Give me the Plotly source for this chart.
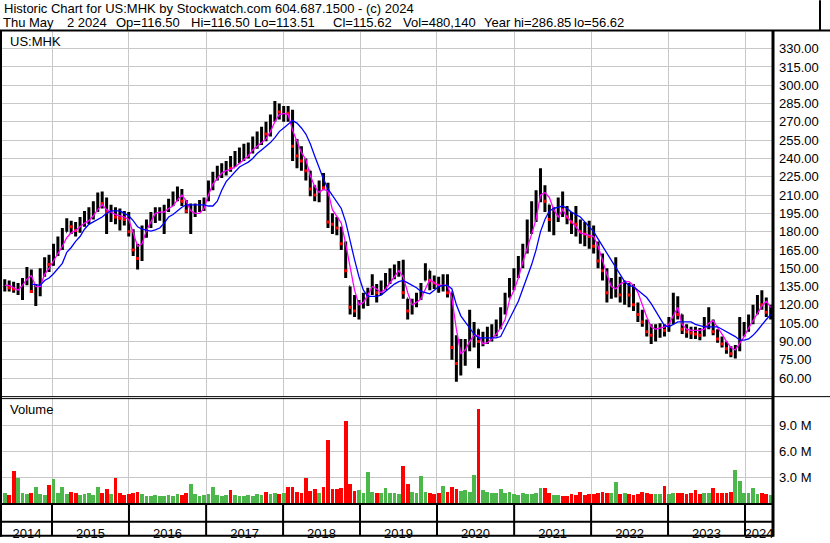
import pandas as pd
import plotly.graph_objects as go

# one bar every three weeks, the last one on May 2 2024
dates = pd.date_range(end="2024-05-02", periods=174, freq="21D")

high = [141, 140, 139, 138, 142, 151, 149, 137, 150, 159,
        161, 170, 176, 183, 191, 189, 188, 192, 197, 200,
        205, 212, 213, 208, 202, 200, 199, 197, 196, 182,
        170, 185, 190, 196, 200, 200, 202, 207, 213, 217,
        215, 206, 203, 203, 206, 208, 222, 229, 234, 236,
        238, 242, 246, 249, 252, 253, 258, 262, 266, 270,
        276, 287, 285, 283, 283, 280, 256, 250, 240, 230,
        218, 222, 228, 220, 195, 192, 184, 172, 135, 128,
        124, 130, 134, 145, 137, 140, 146, 150, 153, 156,
        157, 125, 125, 130, 138, 154, 148, 144, 143, 145,
        145, 130, 95, 92, 92, 116, 106, 100, 98, 102,
        104, 108, 118, 130, 142, 150, 160, 170, 190, 205,
        214, 232, 218, 202, 200, 208, 213, 201, 196, 201,
        190, 188, 189, 185, 172, 162, 150, 142, 159, 143,
        140, 138, 137, 122, 116, 108, 104, 104, 105, 104,
        110, 130, 127, 112, 104, 102, 102, 101, 110, 118,
        108, 100, 94, 90, 86, 87, 110, 106, 112, 120,
        128, 132, 126, 120]

low = [131, 131, 130, 128, 124, 136, 130, 119, 127, 143,
       147, 152, 160, 165, 180, 178, 176, 179, 184, 186,
       190, 196, 199, 178, 188, 186, 181, 185, 176, 160,
       149, 156, 175, 183, 187, 189, 178, 196, 201, 205,
       201, 195, 178, 192, 196, 197, 205, 214, 222, 224,
       226, 229, 233, 236, 238, 240, 244, 248, 251, 254,
       258, 270, 272, 270, 270, 238, 232, 230, 222, 209,
       205, 204, 214, 183, 178, 177, 165, 142, 112, 110,
       108, 117, 119, 128, 122, 128, 132, 137, 141, 143,
       125, 108, 112, 118, 124, 140, 132, 133, 130, 131,
       126, 75, 57, 62, 70, 82, 85, 68, 86, 88,
       90, 94, 100, 112, 126, 132, 142, 150, 162, 178,
       188, 204, 196, 180, 177, 188, 192, 186, 178, 176,
       170, 168, 166, 162, 150, 140, 122, 125, 126, 122,
       120, 118, 115, 106, 102, 94, 88, 90, 93, 94,
       98, 104, 108, 96, 93, 92, 92, 91, 94, 100,
       95, 89, 85, 80, 77, 76, 82, 94, 98, 104,
       112, 116, 110, 108]

close = [136, 134, 133, 135, 140, 146, 131, 134, 146, 156,
         153, 165, 170, 178, 186, 184, 181, 189, 192, 196,
         198, 206, 203, 196, 196, 192, 191, 190, 180, 165,
         158, 180, 186, 192, 195, 196, 199, 204, 210, 212,
         205, 197, 200, 200, 203, 206, 218, 225, 230, 230,
         234, 232, 242, 245, 246, 249, 254, 258, 262, 260,
         272, 280, 278, 280, 277, 250, 242, 238, 230, 215,
         210, 220, 216, 188, 186, 183, 170, 148, 118, 115,
         118, 124, 132, 133, 130, 135, 140, 146, 149, 150,
         130, 115, 120, 126, 134, 148, 140, 138, 136, 138,
         130, 85, 72, 80, 84, 102, 104, 90, 92, 96,
         100, 104, 114, 126, 138, 146, 156, 165, 183, 198,
         208, 215, 205, 190, 192, 200, 198, 192, 188, 186,
         180, 178, 176, 168, 156, 148, 130, 136, 140, 128,
         132, 128, 120, 112, 106, 98, 95, 98, 100, 99,
         106, 124, 112, 100, 98, 97, 96, 95, 104, 106,
         98, 92, 88, 84, 80, 84, 96, 100, 108, 116,
         122, 120, 114, 115.62]

ma_fast = [136, 136, 134, 132, 136, 141, 144, 135, 135, 145,
           150, 156, 161, 168, 175, 179, 181, 184, 187, 189,
           193, 198, 202, 198, 196, 194, 193, 192, 190, 178,
           168, 170, 181, 188, 195, 196, 196, 199, 201, 206,
           210, 205, 197, 195, 195, 199, 210, 219, 224, 228,
           230, 231, 233, 236, 239, 242, 247, 250, 253, 256,
           262, 270, 276, 277, 276, 263, 254, 245, 239, 226,
           217, 212, 215, 213, 198, 192, 187, 170, 152, 132,
           120, 122, 128, 135, 133, 130, 133, 138, 143, 148,
           143, 130, 120, 122, 125, 133, 141, 138, 136, 136,
           136, 125, 100, 80, 83, 90, 95, 95, 88, 89,
           92, 96, 101, 108, 124, 132, 142, 155, 166, 178,
           190, 210, 212, 208, 198, 192, 198, 192, 188, 184,
           179, 178, 177, 176, 168, 156, 145, 135, 133, 137,
           139, 139, 136, 130, 120, 110, 102, 100, 101, 102,
           104, 111, 118, 104, 100, 99, 99, 99, 100, 105,
           107, 102, 96, 90, 85, 83, 88, 94, 101, 107,
           113, 119, 123, 118]

ma_slow = [None, None, None, None, None, None, 137, 136.5, 136, 140,
           142, 145.5, 149.5, 154, 163, 167, 172, 176, 182, 186,
           188, 190, 192, 195, 197, 197, 197, 195, 193, 189,
           184, 182, 181, 180.5, 181.5, 183, 187, 192, 194, 197,
           200, 202, 202, 202, 202, 202, 201, 201, 205, 214,
           221, 225, 229, 233, 235, 237, 240, 244, 247, 250,
           253, 257, 262, 265, 268, 271, 269, 265, 260, 252,
           242, 232, 223, 215, 210, 205, 199, 188, 172, 157,
           143, 132, 127, 127, 127, 128, 131, 134, 137, 139,
           140, 138, 136, 134, 131, 130, 129, 132, 135, 136,
           136, 133, 120, 111, 106, 101, 96, 93, 93, 93,
           93, 93, 94, 101, 108, 115, 123, 133, 143, 153,
           165, 180, 190, 197, 199, 200, 201, 199, 196, 194,
           192, 188, 184, 180, 174, 168, 162, 157, 150, 144,
           139, 136, 135, 132, 129, 126, 121, 115, 109, 103,
           102, 104, 106, 106, 106, 106, 104, 103, 102, 102,
           102, 102, 100, 98, 96, 94, 91, 91, 92, 95,
           99, 104, 108, 112]

# volume in millions of shares
volume_m = [1.1, 0.9, 3.7, 2.9, 1.2, 1.0, 1.1, 1.85, 1.0, 0.9,
            2.1, 2.8, 1.1, 1.8, 1.0, 1.3, 1.2, 0.9, 1.0, 1.1,
            0.9, 1.8, 1.1, 1.65, 1.0, 2.9, 1.2, 0.9, 1.0, 1.2,
            1.3, 1.0, 0.8, 0.8, 0.9, 0.8, 0.8, 0.9, 0.8, 1.0,
            0.9, 1.1, 2.2, 1.0, 0.8, 0.9, 1.0, 1.8, 0.9, 0.8,
            0.9, 1.5, 0.9, 0.8, 0.8, 0.9, 0.8, 1.0, 0.9, 1.3,
            1.0, 1.1, 1.0, 1.1, 1.9, 1.9, 1.3, 1.2, 2.9, 1.4,
            1.65, 1.2, 1.9, 7.3, 1.6, 1.65, 1.7, 9.6, 2.2, 1.4,
            1.5, 1.2, 3.6, 1.3, 1.1, 1.2, 1.7, 1.1, 1.2, 1.0,
            4.3, 2.2, 1.3, 1.1, 3.1, 1.3, 1.1, 1.0, 1.2, 2.0,
            1.3, 1.8, 1.6, 1.4, 1.5, 1.3, 3.3, 11.0, 1.5, 1.3,
            1.2, 1.2, 1.65, 1.2, 1.3, 1.0, 0.9, 1.15, 1.0, 1.0,
            1.1, 1.7, 1.7, 1.1, 0.9, 0.9, 0.8, 0.8, 1.0, 0.9,
            1.3, 0.9, 1.0, 1.0, 1.1, 1.3, 1.1, 1.2, 2.4, 1.0,
            1.2, 1.0, 0.9, 1.0, 1.3, 1.1, 1.0, 1.05, 1.0, 1.95,
            1.0, 1.1, 1.2, 1.1, 1.0, 1.1, 1.5, 1.0, 1.1, 1.2,
            1.7, 1.2, 1.1, 1.2, 1.3, 3.8, 2.5, 1.2, 1.1, 1.7,
            1.0, 1.15, 1.0, 0.9]

price_ticks = list(range(60, 331, 15))
volume_ticks = [3, 6, 9]
years = list(range(2014, 2025))

header_1 = "Historic Chart for US:MHK by Stockwatch.com 604.687.1500 - (c) 2024"
header_2 = [("Thu May", 2), ("2 2024", 66), ("Op=116.50", 115), ("Hi=116.50", 190),
            ("Lo=113.51", 253), ("Cl=115.62", 332), ("Vol=480,140", 402),
            ("Year hi=286.85", 483), ("lo=56.62", 573)]

FONT = "Liberation Sans, Arial, sans-serif"
GRID = "#c8c8c8"
RED = "#ff0000"
GREEN = "#4cb84c"

# plot area in pixels: x 2..773, y 32..509
L, R, T, B = 2, 773, 32, 509
W, H = 830, 543


def px(x):
    return (x - L) / (R - L)


def py(y):
    return (B - y) / (B - T)


prev_close = [close[0]] + close[:-1]
open_ = [min(max(p, lo), hi) for p, lo, hi in zip(prev_close, low, high)]
down = [c < p for c, p in zip(close, prev_close)]
vol_colors = [RED if d else GREEN for d in down]

x_start = pd.Timestamp("2014-05-08 19:00")
x_end = pd.Timestamp("2024-05-12 19:00")
jan1 = [pd.Timestamp(f"{y}-01-01") for y in years[1:]]
bounds = [x_start] + jan1 + [x_end]
label_pos = [a + (b - a) / 2 for a, b in zip(bounds[:-1], bounds[1:])]

fig = go.Figure()

fig.add_trace(go.Ohlc(
    x=dates, open=open_, high=high, low=low, close=close,
    increasing_line_color="black", decreasing_line_color="black",
    line_width=3, tickwidth=0.15, xaxis="x", yaxis="y", hoverinfo="skip"
))
fig.add_trace(go.Scatter(
    x=[d for d, k in zip(dates, down) if k],
    y=[c for c, k in zip(close, down) if k],
    mode="markers", marker=dict(symbol="square", size=3, color=RED, line_width=0),
    xaxis="x", yaxis="y", hoverinfo="skip"
))
fig.add_trace(go.Scatter(
    x=dates, y=ma_fast, mode="lines", line=dict(color="#ff00ff", width=1.3),
    xaxis="x", yaxis="y"
))
fig.add_trace(go.Scatter(
    x=dates, y=ma_slow, mode="lines", line=dict(color="#0000ff", width=1.3),
    xaxis="x", yaxis="y"
))
fig.add_trace(go.Bar(
    x=dates, y=volume_m, marker_color=vol_colors, marker_line_width=0,
    width=21 * 86400000 * 0.85, xaxis="x", yaxis="y2"
))

shapes = []


def hline(y, x0, x1, w):
    shapes.append(dict(type="line", xref="paper", yref="paper",
                       x0=px(x0), x1=px(x1), y0=py(y), y1=py(y),
                       line=dict(color="black", width=w)))


def vline(x, y0, y1, w):
    shapes.append(dict(type="line", xref="paper", yref="paper",
                       x0=px(x), x1=px(x), y0=py(y0), y1=py(y1),
                       line=dict(color="black", width=w)))


hline(30.5, 0, W, 2)
vline(820, 0, 31, 2)
vline(1, 31, 542, 2)
vline(773, 31, 542, 3)
hline(400.5, 0, W, 1)
hline(402.5, 0, R, 1)
hline(509, 0, R, 2)
hline(527, 0, R, 2)
hline(541, 0, R, 2)
for d in jan1:
    shapes.append(dict(type="line", xref="x", yref="paper", x0=d, x1=d,
                       y0=py(509), y1=py(541), line=dict(color="black", width=2)))

annotations = [dict(text=header_1, x=px(2), y=py(8.5), xref="paper", yref="paper",
                    xanchor="left", yanchor="middle", showarrow=False,
                    font=dict(size=13, family=FONT, color="black"))]
for txt, xpos in header_2:
    annotations.append(dict(text=txt, x=px(xpos - 1), y=py(22), xref="paper", yref="paper",
                            xanchor="left", yanchor="middle", showarrow=False,
                            font=dict(size=13, family=FONT, color="black")))
for txt, ypos in [("US:MHK", 42), ("Volume", 413.5)]:
    annotations.append(dict(text=txt, x=px(8), y=py(ypos), xref="paper", yref="paper",
                            xanchor="left", yanchor="middle", showarrow=False,
                            font=dict(size=13, family=FONT, color="black")))

fig.update_layout(
    width=W, height=H, autosize=False,
    margin=dict(l=L, r=W - R, t=T, b=H - B),
    paper_bgcolor="white", plot_bgcolor="white",
    showlegend=False, bargap=0,
    font=dict(family=FONT, size=13, color="black"),
    xaxis=dict(
        type="date", range=[x_start, x_end], anchor="y2", domain=[0, 1],
        tickvals=label_pos, ticktext=[str(y) for y in years],
        showgrid=False, ticks="", showline=False, zeroline=False,
        ticklabelstandoff=20, tickfont=dict(size=13),
        minor=dict(tickvals=jan1, showgrid=True, gridcolor=GRID, gridwidth=1, ticks=""),
        rangeslider=dict(visible=False), fixedrange=True
    ),
    yaxis=dict(
        domain=[py(401), 1], range=[44.35, 343.64], side="right", anchor="x",
        tickvals=price_ticks, ticktext=[f"{v:.2f}" for v in price_ticks],
        showgrid=True, gridcolor=GRID, gridwidth=1, zeroline=False,
        ticks="", ticklabelstandoff=5, tickfont=dict(size=13), fixedrange=True
    ),
    yaxis2=dict(
        domain=[0, py(403)], range=[-0.115, 12.11], side="right", anchor="x",
        tickvals=volume_ticks, ticktext=[f"{v:.1f} M" for v in volume_ticks],
        showgrid=True, gridcolor=GRID, gridwidth=1, zeroline=False,
        ticks="", ticklabelstandoff=5, tickfont=dict(size=13), fixedrange=True
    ),
    shapes=shapes,
    annotations=annotations,
)

# the page's default 8px body margin would shift the figure off the window
fig.write_html("out.html", config={"displayModeBar": False},
               post_script="document.body.style.margin='0';")
